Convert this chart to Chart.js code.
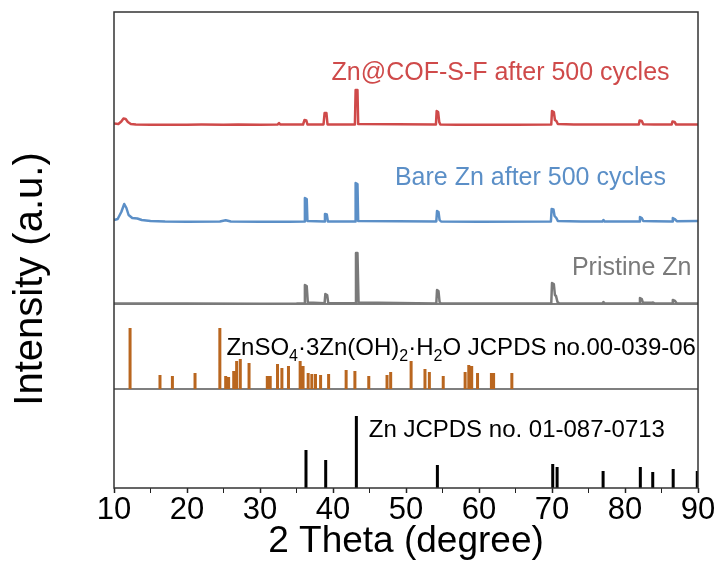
<!DOCTYPE html>
<html>
<head>
<meta charset="utf-8">
<script src="https://cdn.jsdelivr.net/npm/chart.js@4.4.0/dist/chart.umd.min.js"></script>
<style>
  html, body { margin: 0; padding: 0; background: #fff; }
  canvas { display: block; }
</style>
</head>
<body>
<canvas id="xrd" width="719" height="565"></canvas>
<script>
// measured patterns: [2theta, intensity above own baseline]
const cofAfterCycles = [
  [10, 1.5], [10.6, 1], [11.0, 3.5], [11.3, 6.5], [11.6, 6], [11.9, 3], [12.3, 1], [13, 0.5],
  [15, 0.3], [17, 0.2], [20, 0.2], [22, 0.4], [25, 0.3], [27, 0.5], [30, 0.3],
  [32.4, 0.4], [32.6, 2], [32.8, 0.4], [35.9, 0.5], [36.1, 5], [36.35, 4.5], [36.5, 0.5],
  [38.7, 0.5], [38.85, 12], [39.1, 12], [39.25, 0.5], [43.0, 0.5], [43.1, 35], [43.35, 35], [43.45, 1],
  [54.1, 0.5], [54.2, 14], [54.4, 13], [54.55, 3], [54.7, 0.5], [57, 0.3], [60, 0.2], [65, 0.2],
  [69.9, 0.5], [70.0, 14], [70.25, 13], [70.4, 5], [70.6, 4], [70.8, 1], [73, 0.4], [77, 0.5],
  [81.9, 0.5], [82.0, 4.5], [82.3, 4], [82.5, 0.8], [84, 0.5], [86.4, 0.5], [86.5, 3.5], [86.8, 3],
  [87, 0.5], [90, 0.5]
];
const bareAfterCycles = [
  [10, 2], [10.5, 3], [11.0, 10], [11.4, 18], [11.7, 14], [12.0, 7], [12.5, 4], [13.2, 3.5], [13.8, 2],
  [15, 1], [17, 0.5], [20, 0.3], [24.5, 0.5], [25.3, 1.8], [26, 0.5], [30, 0.3], [34, 0.3],
  [36.05, 0.5], [36.15, 24], [36.4, 23], [36.5, 1], [38.8, 0.5], [38.9, 8], [39.15, 7.5], [39.3, 0.5],
  [43.05, 0.5], [43.1, 39], [43.35, 38], [43.45, 1], [54.15, 0.5], [54.25, 11], [54.45, 10], [54.6, 2],
  [54.8, 0.5], [60, 0.3], [69.85, 0.5], [69.95, 13], [70.2, 12.5], [70.35, 6], [70.6, 4], [70.8, 1],
  [74, 0.5], [76.9, 0.5], [77.05, 2], [77.2, 0.5], [81.95, 0.5], [82.05, 5], [82.3, 4], [82.5, 1],
  [84, 0.8], [86.45, 0.5], [86.55, 4], [86.8, 3], [87.1, 0.8], [90, 1]
];
const pristineZn = [
  [10, 0.5], [20, 0.5], [30, 0.3], [35, 0.5], [36.05, 0.8], [36.15, 19], [36.4, 18], [36.55, 1.5],
  [38.85, 0.8], [38.95, 10], [39.2, 9], [39.35, 0.8], [43.05, 0.8], [43.15, 51], [43.35, 51], [43.5, 1.5],
  [54.15, 0.5], [54.25, 14], [54.45, 13], [54.6, 2], [54.8, 0.5], [69.9, 0.5], [70.0, 21], [70.25, 20],
  [70.4, 9], [70.55, 8], [70.75, 2], [71, 0.5], [76.9, 0.5], [77.05, 2], [77.25, 0.5], [81.95, 0.5],
  [82.05, 6], [82.3, 5], [82.45, 1.5], [83.7, 1.3], [83.85, 1.5], [84.1, 0.5], [86.45, 0.5], [86.55, 4],
  [86.85, 3], [87.1, 0.5], [90, 0.5]
];

// reference cards
const zhsTheta = [12.2, 16.3, 18.0, 21.1, 24.5, 25.3, 25.7, 26.4, 26.8, 27.3, 28.5, 31.0, 31.4, 32.4, 33.0,
  33.9, 35.5, 35.9, 36.6, 37.1, 37.6, 38.3, 39.4, 41.8, 43.0, 44.9, 47.4, 47.9, 50.7, 52.6, 53.2, 55.1,
  58.1, 58.6, 59.0, 59.8, 61.7, 62.0, 64.5];
const zhsHeight = [61, 14, 13, 16, 61, 13, 12, 18, 28, 30, 26, 13, 13, 25, 21,
  23, 28, 23, 16, 15, 15, 14, 15, 19, 18, 13, 14, 17, 28, 20, 17, 13,
  17, 24, 23, 16, 16, 16, 16];
const znTheta = [36.3, 39.0, 43.2, 54.3, 70.1, 70.7, 77.0, 82.1, 83.8, 86.6, 89.9];
const znHeight = [38, 28, 72, 23, 24, 21, 17, 21, 16, 19, 17];

const xTicks = [10, 20, 30, 40, 50, 60, 70, 80, 90];

// vertical stacking offsets (plot units = px)
const base = { cof: 363, bare: 266, pristine: 184, zhs: 99, zn: 0 };
const FONT = '"Liberation Sans", Arial, Helvetica, sans-serif';

function curve(points, off) {
  return points.map(p => ({ x: p[0], y: p[1] + off }));
}
function sticks(theta, height, off) {
  const out = [];
  theta.forEach((t, i) => {
    out.push({ x: t, y: off }, { x: t, y: off + height[i] }, { x: t, y: null });
  });
  return out;
}

const lineStyle = { pointRadius: 0, tension: 0, borderJoinStyle: 'round', spanGaps: false, fill: false };

const labelPlugin = {
  id: 'phaseLabels',
  afterDatasetsDraw(chart) {
    const { ctx, chartArea: a } = chart;
    const xs = chart.scales.x, ys = chart.scales.y;
    ctx.save();
    ctx.strokeStyle = '#333';
    ctx.lineWidth = 1.5;
    ctx.strokeRect(a.left, a.top, a.right - a.left, a.bottom - a.top);

    ctx.textBaseline = 'alphabetic';
    const simple = [
      ['Zn@COF-S-F after 500 cycles', 86.1, 408, 'right', '#cf4a4a', 25],
      ['Bare Zn after 500 cycles', 85.6, 303, 'right', '#5b8fc7', 25],
      ['Pristine Zn', 89.1, 213, 'right', '#7a7a7a', 25],
      ['Zn JCPDS no. 01-087-0713', 44.9, 51, 'left', '#000', 24]
    ];
    simple.forEach(s => {
      ctx.font = s[5] + 'px ' + FONT;
      ctx.textAlign = s[3];
      ctx.fillStyle = s[4];
      ctx.fillText(s[0], xs.getPixelForValue(s[1]), ys.getPixelForValue(s[2]));
    });

    // formula with subscripts
    const parts = [['ZnSO', 0], ['4', 1], ['\u00b73Zn(OH)', 0], ['2', 1], ['\u00b7H', 0], ['2', 1], ['O JCPDS no.00-039-06', 0]];
    let px = xs.getPixelForValue(25.4);
    const py = ys.getPixelForValue(133);
    ctx.textAlign = 'left';
    ctx.fillStyle = '#000';
    parts.forEach(p => {
      ctx.font = (p[1] ? '16px ' : '24px ') + FONT;
      ctx.fillText(p[0], px, py + (p[1] ? 6 : 0));
      px += ctx.measureText(p[0]).width;
    });

    // y axis title
    ctx.translate(31, 279);
    ctx.rotate(-Math.PI / 2);
    ctx.textAlign = 'center';
    ctx.textBaseline = 'middle';
    ctx.font = '40px ' + FONT;
    ctx.fillText('Intensity (a.u.)', 0, 0);
    ctx.restore();
  }
};

new Chart(document.getElementById('xrd'), {
  type: 'line',
  data: {
    datasets: [
      Object.assign({ data: curve(cofAfterCycles, base.cof), borderColor: '#cf4a4a', borderWidth: 2.5 }, lineStyle),
      Object.assign({ data: curve(bareAfterCycles, base.bare), borderColor: '#5b8fc7', borderWidth: 2.5 }, lineStyle),
      Object.assign({ data: curve(pristineZn, base.pristine), borderColor: '#7a7a7a', borderWidth: 2.5 }, lineStyle),
      Object.assign({ data: sticks(zhsTheta, zhsHeight, base.zhs), borderColor: '#b9661f', borderWidth: 3, borderCapStyle: 'butt' }, lineStyle),
      Object.assign({ data: sticks(znTheta, znHeight, base.zn), borderColor: '#000', borderWidth: 3, borderCapStyle: 'butt' }, lineStyle),
      Object.assign({
        data: [{ x: 10, y: base.pristine }, { x: 90, y: base.pristine }, { x: 90, y: null },
               { x: 10, y: base.zhs }, { x: 90, y: base.zhs }],
        borderColor: '#555', borderWidth: 1.5
      }, lineStyle)
    ]
  },
  options: {
    responsive: false,
    animation: false,
    layout: { padding: { top: 12, right: 21, left: 0, bottom: 0 } },
    plugins: { legend: { display: false }, tooltip: { enabled: false } },
    scales: {
      x: {
        type: 'linear', min: 10, max: 90,
        afterBuildTicks(scale) {
          const t = [];
          xTicks.forEach((v, i) => { t.push({ value: v }); if (i < xTicks.length - 1) t.push({ value: v + 5 }); });
          scale.ticks = t;
        },
        ticks: {
          autoSkip: false, maxRotation: 0, padding: -1, color: '#000',
          font: { size: 31, family: FONT },
          callback: v => (xTicks.includes(v) ? String(v) : '')
        },
        grid: {
          drawOnChartArea: false, drawTicks: true, tickLength: 5, color: '#222',
          tickWidth: c => (c.tick && xTicks.includes(c.tick.value) ? 1.5 : 1)
        },
        border: { display: false },
        title: { display: true, text: '2 Theta (degree)', color: '#000', font: { size: 37, family: FONT }, padding: { top: 0, bottom: 1 } },
        afterFit(scale) { scale.height = 77; }
      },
      y: {
        min: 0, max: 476,
        ticks: { display: false },
        grid: { display: false },
        border: { display: false },
        afterFit(scale) { scale.width = 114; }
      }
    }
  },
  plugins: [labelPlugin]
});
</script>
</body>
</html>
